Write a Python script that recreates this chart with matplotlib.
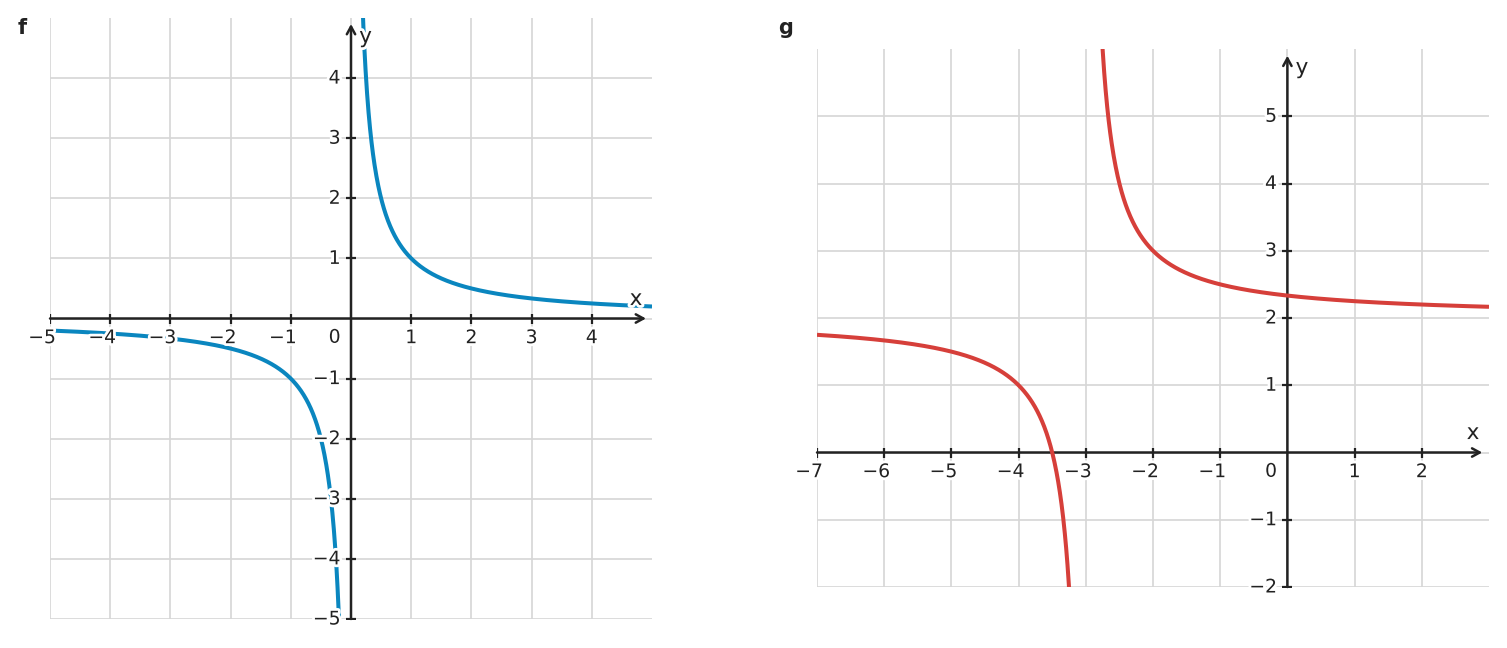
import numpy as np
import matplotlib.pyplot as plt
import matplotlib.patheffects as pe

# panel f: y = 1/x
f_xlim = (-5, 5)
f_ylim = (-5, 5)
f_shift_x = 0
f_shift_y = 0
f_xticks = [-5, -4, -3, -2, -1, 1, 2, 3, 4]
f_yticks = [-5, -4, -3, -2, -1, 1, 2, 3, 4]

# panel g: y = 1/(x+3) + 2
g_xlim = (-7, 3)
g_ylim = (-2, 6)
g_shift_x = -3
g_shift_y = 2
g_xticks = [-7, -6, -5, -4, -3, -2, -1, 1, 2]
g_yticks = [-2, -1, 1, 2, 3, 4, 5]

BLUE = "#0a86bf"
RED = "#d63f3a"
AXC = "#222222"
GRIDC = "#d6d6d6"
FS = 13.5

stroke = [pe.withStroke(linewidth=4, foreground="white")]


def lab(t):
    return "\u2212%d" % -t if t < 0 else str(t)


def hyperbola(ax, xlim, sx, sy, color):
    xl = np.linspace(xlim[0], sx - 0.05, 800)
    xr = np.linspace(sx + 0.05, xlim[1], 800)
    for xs in (xl, xr):
        ax.plot(xs, 1.0 / (xs - sx) + sy, color=color, lw=2.9, zorder=3,
                solid_capstyle="butt")


def draw_panel(ax, xlim, ylim, xticks, yticks, sx, sy, color):
    ax.set_xlim(*xlim)
    ax.set_ylim(*ylim)
    ax.axis("off")
    for t in range(xlim[0], xlim[1]):
        ax.plot([t, t], ylim, color=GRIDC, lw=1.2, zorder=0)
    for t in range(ylim[0], ylim[1]):
        ax.plot(xlim, [t, t], color=GRIDC, lw=1.2, zorder=0)

    hyperbola(ax, xlim, sx, sy, color)

    # axes with arrows
    ap = dict(arrowstyle="->,head_length=0.55,head_width=0.3", lw=1.8,
              color=AXC, shrinkA=0, shrinkB=0)
    ax.annotate("", xy=(xlim[1] - 0.1, 0), xytext=(xlim[0], 0),
                arrowprops=ap, zorder=2)
    ax.annotate("", xy=(0, ylim[1] - 0.1), xytext=(0, ylim[0]),
                arrowprops=ap, zorder=2)

    ax.plot(xticks, [0] * len(xticks), ls="none", marker="|", ms=7.5,
            mew=1.6, color=AXC, zorder=2)
    ax.plot([0] * len(yticks), yticks, ls="none", marker="_", ms=7.5,
            mew=1.6, color=AXC, zorder=2)

    kw = dict(textcoords="offset points", fontsize=FS, color=AXC, zorder=5,
              path_effects=stroke, va="center")
    for t in xticks:
        dx = -5.7 if t < 0 else 0
        ax.annotate(lab(t), (t, 0), xytext=(dx, -13.8), ha="center", **kw)
    for t in yticks:
        ax.annotate(lab(t), (0, t), xytext=(-7.5, 0), ha="right", **kw)
    ax.annotate("0", (0, 0), xytext=(-11.8, -13.5), ha="center", **kw)
    kw["fontsize"] = 15.5
    ax.annotate("x", (xlim[1], 0), xytext=(-11.5, 14), ha="center", **kw)
    ax.annotate("y", (0, ylim[1]), xytext=(10.5, -13.5), ha="center", **kw)


fig = plt.figure(figsize=(15.07, 6.48), dpi=100)
ax_f = fig.add_axes([50 / 1507, 29 / 648, 602 / 1507, 601 / 648])
ax_g = fig.add_axes([817 / 1507, 61 / 648, 672 / 1507, 538 / 648])

draw_panel(ax_f, f_xlim, f_ylim, f_xticks, f_yticks, f_shift_x, f_shift_y, BLUE)
draw_panel(ax_g, g_xlim, g_ylim, g_xticks, g_yticks, g_shift_x, g_shift_y, RED)

fig.text(22 / 1507, 1 - 28 / 648, "f", fontsize=15, fontweight="bold",
         color=AXC, ha="center", va="center")
fig.text(786 / 1507, 1 - 28 / 648, "g", fontsize=15, fontweight="bold",
         color=AXC, ha="center", va="center")

fig.savefig("out.png", dpi=100)
